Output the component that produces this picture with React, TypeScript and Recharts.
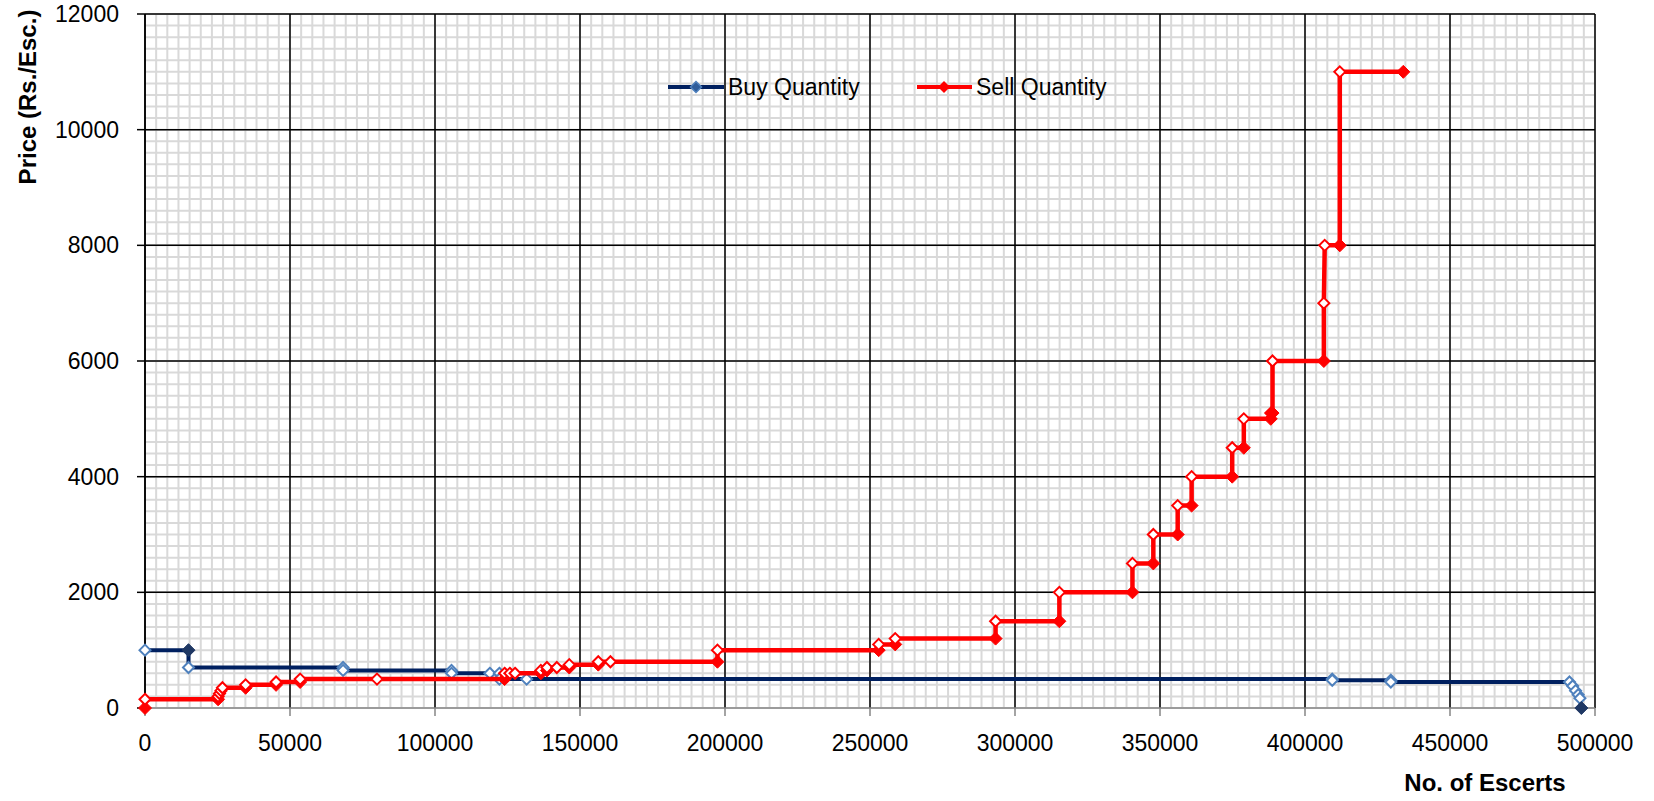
import React from 'react';
import {
  ComposedChart,
  Scatter,
  XAxis,
  YAxis,
  CartesianGrid,
  Label,
  Customized,
} from 'recharts';

// axis ticks
const xTicks = [0, 50000, 100000, 150000, 200000, 250000, 300000, 350000, 400000, 450000, 500000];
const yTicks = [0, 2000, 4000, 6000, 8000, 10000, 12000];

// minor grid (excel style fine grid)
const minorX = Array.from({ length: 131 }, (_, i) => (i * 50000) / 13);
const minorY = Array.from({ length: 61 }, (_, i) => i * 200);

// buy side: cumulative quantity vs price, 'f' = filled marker, 'o' = open marker
const buyQty = [0, 15000, 15000, 68300, 68300, 105700, 105700, 118900, 122200, 122200, 131600, 409400, 409400, 429600, 429600, 491200, 492300, 493300, 494200, 494800, 495300];
const buyPrice = [1000, 1000, 700, 700, 650, 650, 600, 600, 600, 500, 500, 500, 480, 480, 450, 450, 380, 300, 230, 170, 0];
const buyMark = ['o', 'f', 'o', 'o', 'o', 'o', 'o', 'o', 'o', 'o', 'o', 'o', 'o', 'o', 'o', 'o', 'o', 'o', 'o', 'o', 'f'];

// sell side
const sellQty = [
  0, 0, 25200, 25200, 25700, 26200, 26700, 34700, 34700, 45200, 45200, 53500, 53500, 80000,
  124000, 124000, 125800, 127600, 136500, 136500, 138600, 138600, 142000, 146300, 146300,
  156300, 156300, 160500, 197400, 197400, 253000, 253000, 258700, 258700, 293300, 293300,
  315300, 315300, 340500, 340500, 347700, 347700, 356100, 356100, 360900, 360900, 374900,
  374900, 378900, 378900, 388200, 388200, 388800, 388800, 406500, 406500, 406800, 412000,
  412000, 433900,
];
const sellPrice = [
  0, 150, 150, 200, 250, 300, 350, 350, 400, 400, 450, 450, 500, 500,
  500, 600, 600, 600, 600, 650, 650, 700, 700, 700, 750,
  750, 800, 800, 800, 1000, 1000, 1100, 1100, 1200, 1200, 1500,
  1500, 2000, 2000, 2500, 2500, 3000, 3000, 3500, 3500, 4000, 4000,
  4500, 4500, 5000, 5000, 5100, 5100, 6000, 6000, 7000, 8000, 8000,
  11000, 11000,
];
const sellMark = [
  'f', 'o', 'f', 'o', 'o', 'o', 'o', 'f', 'o', 'f', 'o', 'f', 'o', 'o',
  'f', 'o', 'o', 'o', 'f', 'o', 'f', 'o', 'o', 'f', 'o',
  'f', 'o', 'o', 'f', 'o', 'f', 'o', 'f', 'o', 'f', 'o',
  'f', 'o', 'f', 'o', 'f', 'o', 'f', 'o', 'f', 'o', 'f',
  'o', 'f', 'o', 'f', 'o', 'f', 'o', 'f', 'o', 'o', 'f',
  'o', 'f',
];

const buyData = buyQty.map((x, i) => ({ x, y: buyPrice[i], m: buyMark[i] }));
const sellData = sellQty.map((x, i) => ({ x, y: sellPrice[i], m: sellMark[i] }));

const FONT = '"Liberation Sans", Arial, sans-serif';
const BUY = '#002060';
const BUY_MARK = '#4F81BD';
const SELL = '#FF0000';

const diamond = (cx: number, cy: number, r: number) =>
  `${cx},${cy - r} ${cx + r},${cy} ${cx},${cy + r} ${cx - r},${cy}`;

const makeShape = (line: string, open: string, filled: string) => (props: any) => {
  const { cx, cy, payload } = props;
  if (cx == null || cy == null) return <g />;
  if (payload.m === 'f') {
    return <polygon points={diamond(cx, cy, 6.5)} fill={filled} stroke={filled} strokeWidth={1} />;
  }
  return <polygon points={diamond(cx, cy, 5.5)} fill="#fff" stroke={open} strokeWidth={2} />;
};

const buyShape = makeShape(BUY, BUY_MARK, '#1F3864');
const sellShape = makeShape(SELL, SELL, SELL);

const LegendBox = () => (
  <g fontFamily={FONT} fontSize={23} fill="#000">
    <line x1={668} y1={87} x2={724} y2={87} stroke={BUY} strokeWidth={4} />
    <polygon points={diamond(696, 87, 5.5)} fill="#2E5C9A" stroke={BUY_MARK} strokeWidth={1.5} />
    <text x={728} y={95}>Buy Quantity</text>
    <line x1={917} y1={87} x2={972} y2={87} stroke={SELL} strokeWidth={4} />
    <polygon points={diamond(944, 87, 6)} fill={SELL} />
    <text x={976} y={95}>Sell Quantity</text>
  </g>
);

const App = () => {
  return (
    <div style={{ width: 1654, height: 801, background: '#fff' }}>
      <style>{'body{margin:0;}'}</style>
      <ComposedChart width={1654} height={801} margin={{ top: 14, right: 59, bottom: 0, left: 0 }}>
        <CartesianGrid stroke="#d9d9d9" strokeWidth={2} verticalValues={minorX} horizontalValues={minorY} />
        <CartesianGrid
          stroke="#000"
          strokeWidth={1.5}
          verticalValues={xTicks}
          horizontalValues={yTicks.filter((v) => v > 0)}
        />
        <XAxis
          dataKey="x"
          type="number"
          domain={[0, 500000]}
          ticks={xTicks}
          interval={0}
          height={93}
          tickSize={8}
          tickMargin={19}
          axisLine={{ stroke: '#868686', strokeWidth: 1.5 }}
          tickLine={{ stroke: '#868686', strokeWidth: 1.5 }}
          tick={{ fill: '#000', fontSize: 23, fontFamily: FONT }}
        >
          <Label
            content={() => (
              <text x={1485} y={791} textAnchor="middle" fontFamily={FONT} fontSize={24} fontWeight="bold" fill="#000">
                No. of Escerts
              </text>
            )}
          />
        </XAxis>
        <YAxis
          dataKey="y"
          type="number"
          domain={[0, 12000]}
          ticks={yTicks}
          interval={0}
          width={145}
          tickSize={8}
          tickMargin={18}
          axisLine={{ stroke: '#000', strokeWidth: 1.5 }}
          tickLine={{ stroke: '#000', strokeWidth: 1.5 }}
          tick={{ fill: '#000', fontSize: 23, fontFamily: FONT }}
        >
          <Label
            content={() => (
              <text
                x={36}
                y={97}
                transform="rotate(-90, 36, 97)"
                textAnchor="middle"
                fontFamily={FONT}
                fontSize={24}
                fontWeight="bold"
                fill="#000"
              >
                Price (Rs./Esc.)
              </text>
            )}
          />
        </YAxis>
        <Scatter
          name="Buy Quantity"
          data={buyData}
          line={{ stroke: BUY, strokeWidth: 4 }}
          lineType="joint"
          shape={buyShape}
          isAnimationActive={false}
        />
        <Scatter
          name="Sell Quantity"
          data={sellData}
          line={{ stroke: SELL, strokeWidth: 4.5 }}
          lineType="joint"
          shape={sellShape}
          isAnimationActive={false}
        />
        <Customized component={LegendBox} />
      </ComposedChart>
    </div>
  );
};

export default App;
